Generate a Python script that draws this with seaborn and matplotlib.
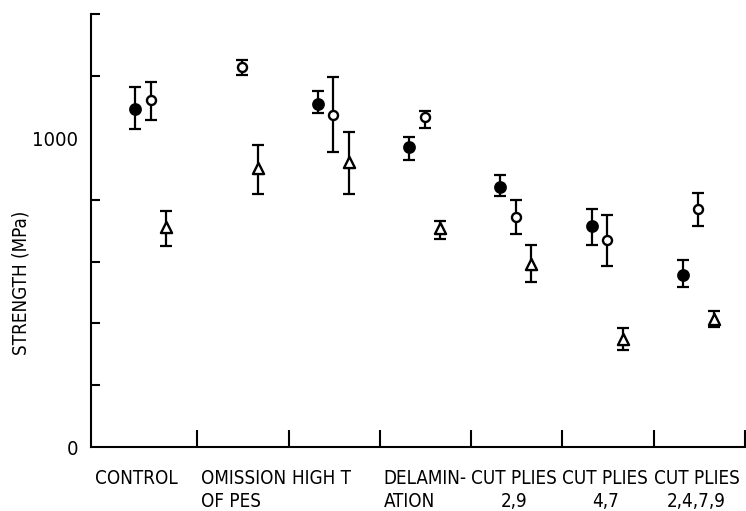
import numpy as np
import pandas as pd
import matplotlib
matplotlib.use("Agg")
import matplotlib.pyplot as plt
import seaborn as sns

# groups along the x axis
groups = ["CONTROL", "OMISSION\nOF PES", "HIGH T", "DELAMIN-\nATION",
          "CUT PLIES\n2,9", "CUT PLIES\n4,7", "CUT PLIES\n2,4,7,9"]

# strength (MPa): mean, lower and upper end of the error bar
filled_mean = [1093, np.nan, 1111, 971, 841, 715, 556]
filled_lo = [1030, np.nan, 1082, 930, 812, 653, 517]
filled_hi = [1166, np.nan, 1152, 1002, 879, 769, 606]

open_mean = [1123, 1231, 1074, 1067, 743, 669, 769]
open_lo = [1059, 1205, 954, 1032, 690, 587, 714]
open_hi = [1181, 1252, 1197, 1088, 799, 752, 823]

tri_mean = [713, 904, 921, 710, 591, 349, 414]
tri_lo = [650, 819, 819, 674, 533, 314, 389]
tri_hi = [765, 977, 1018, 731, 653, 384, 440]

sns.set_style("white")
plt.rcParams["font.family"] = ["DejaVu Sans"]
plt.rcParams["font.stretch"] = "condensed"
plt.rcParams["text.color"] = "black"
plt.rcParams["axes.labelcolor"] = "black"

fig = plt.figure(figsize=(7.46, 5.11), dpi=100)
ax = fig.add_axes([91 / 746, 1 - 447 / 511, 654 / 746, 432.6 / 511])

idx = np.arange(len(groups))
series = [
    (filled_mean, filled_lo, filled_hi, 0.32, "o", "black", 7.5),
    (open_mean, open_lo, open_hi, 0.49, "o", "white", 6.5),
    (tri_mean, tri_lo, tri_hi, 0.66, "^", "white", 8),
]

for mean, lo, hi, off, marker, face, size in series:
    df = pd.DataFrame({"x": idx + off, "y": mean, "lo": lo, "hi": hi}).dropna()
    ax.errorbar(df["x"], df["y"], yerr=[df["y"] - df["lo"], df["hi"] - df["y"]],
                fmt="none", ecolor="black", elinewidth=1.6, capsize=4.5,
                capthick=1.6, zorder=2)
    sns.scatterplot(data=df, x="x", y="y", marker=marker, s=size ** 2,
                    color=face, edgecolor="black", linewidth=1.7, zorder=3,
                    ax=ax, legend=False)

ax.set_xlim(-0.167, 7)
ax.set_ylim(0, 1400)

for side in ["top", "right"]:
    ax.spines[side].set_visible(False)
for side in ["left", "bottom"]:
    ax.spines[side].set_linewidth(1.5)
    ax.spines[side].set_color("black")

ax.set_yticks([0, 1000])
ax.set_yticklabels(["0", "1000"], fontsize=14.5)
ax.set_yticks([200, 400, 600, 800, 1200, 1400], minor=True)
ax.tick_params(axis="y", which="major", direction="in", length=11, width=1.5,
               pad=9, colors="black")
ax.tick_params(axis="y", which="minor", direction="in", length=6.5, width=1.5,
               left=True, colors="black")

ax.set_xticks(np.arange(1, 8))
ax.set_xticklabels([])
ax.tick_params(axis="x", which="major", direction="in", length=12, width=1.5,
               bottom=True, colors="black")

ax.set_xlabel("")
ax.set_ylabel("STRENGTH (MPa)", fontsize=13.5)
ax.yaxis.set_label_coords(-0.092, 0.38)

# category names under each segment of the x axis
starts = [-0.125] + [i + 0.04 for i in range(1, 7)]
for name, x0 in zip(groups, starts):
    if name.startswith("CUT"):
        ax.text(x0 + 0.43, -0.05, name, transform=ax.get_xaxis_transform(),
                ha="center", va="top", multialignment="center",
                fontsize=13.5, linespacing=1.3)
    else:
        ax.text(x0, -0.05, name, transform=ax.get_xaxis_transform(),
                ha="left", va="top", multialignment="left",
                fontsize=13.5, linespacing=1.3)

fig.savefig("out.png", dpi=100)
